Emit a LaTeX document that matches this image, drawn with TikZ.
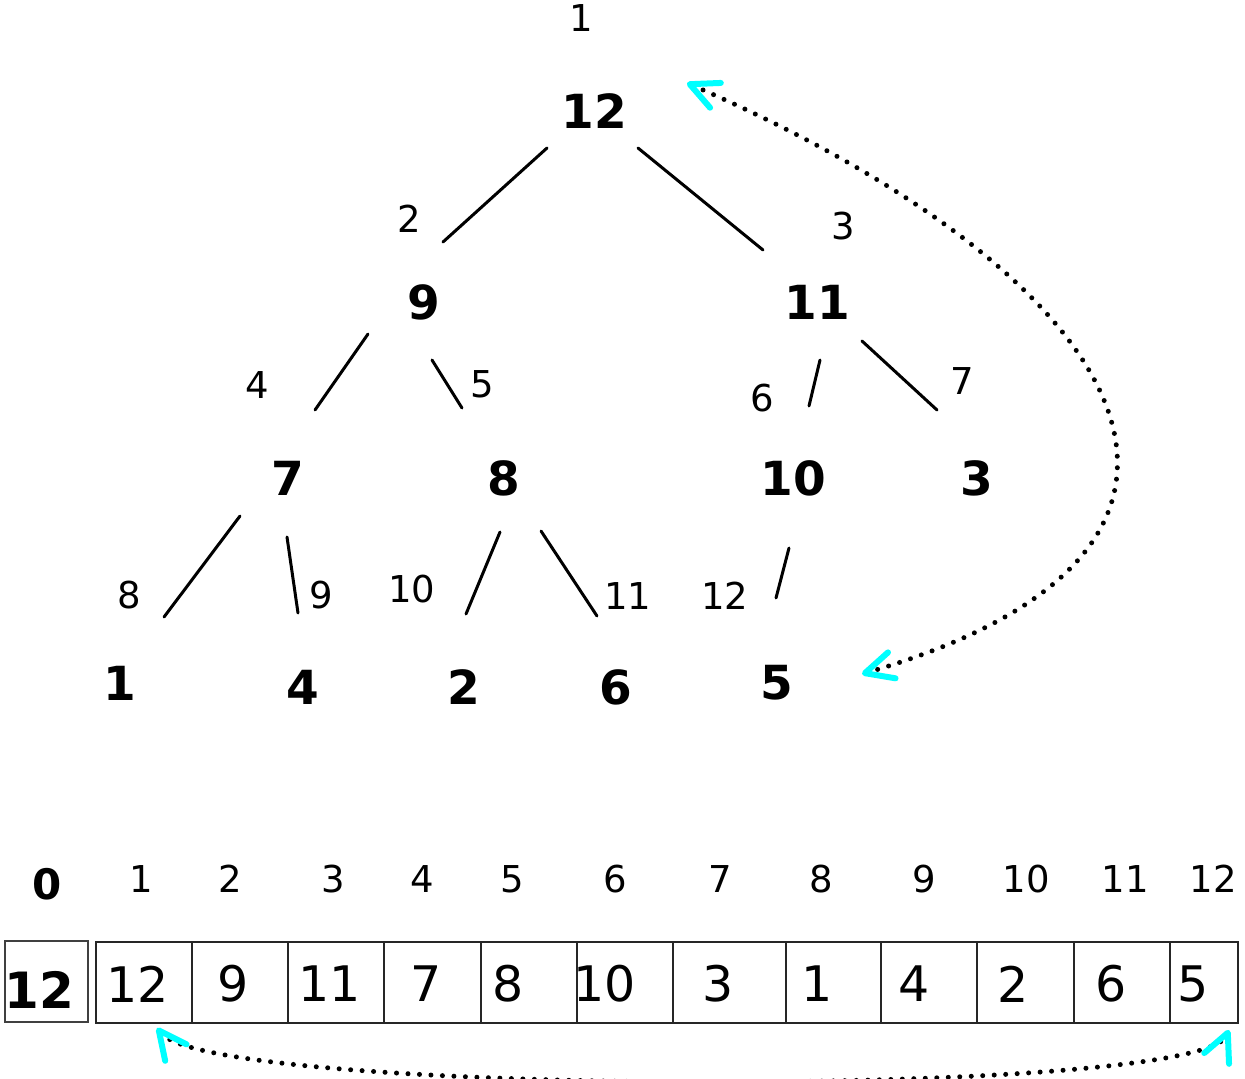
\documentclass[tikz,border=0pt]{standalone}
\usepackage{fontspec}
\setmainfont{DejaVu Sans}
\usetikzlibrary{arrows.meta}
\definecolor{tipcyan}{HTML}{00FFFF}

\begin{document}
\begin{tikzpicture}[
    x=1pt, y=-1pt,
    every node/.style={inner sep=0pt, outer sep=0pt},
    key/.style={font=\fontsize{47}{50}\selectfont\bfseries},
    idx/.style={font=\fontsize{37}{40}\selectfont},
    val/.style={font=\fontsize{49}{52}\selectfont},
    cell/.style={rectangle, draw=black!85, line width=1.6pt, anchor=north west,
                 minimum height=81pt},
    tedge/.style={line width=3pt, line cap=round},
    swaparr/.style={>={Straight Barb[length=28pt, width=27pt, line width=6pt, round, color=tipcyan]},
                    <->, line width=5pt, line cap=round, dash pattern=on 0pt off 11.5pt}
]
    \useasboundingbox (0,0) rectangle (1245,1079);
    \clip (0,0) rectangle (1245,1079);

    \node[key] (t1) at (594,111) {12};
    \node[key] (t2) at (424,302) {9};
    \node[key] (t3) at (817,302) {11};
    \node[key] (t4) at (288,478) {7};
    \node[key] (t5) at (504,478) {8};
    \node[key] (t6) at (793,478) {10};
    \node[key] (t7) at (977,478) {3};
    \node[key] (t8) at (120,683) {1};
    \node[key] (t9) at (303,687) {4};
    \node[key] (t10) at (464,687) {2};
    \node[key] (t11) at (616,687) {6};
    \node[key] (t12) at (777,683) {5};

    \node[idx] (k1) at (581,18) {1};
    \node[idx] (k2) at (409,219) {2};
    \node[idx] (k3) at (843,226) {3};
    \node[idx] (k4) at (257,385) {4};
    \node[idx] (k5) at (482,384) {5};
    \node[idx] (k6) at (762,398) {6};
    \node[idx] (k7) at (962,381) {7};
    \node[idx] (k8) at (129,595) {8};
    \node[idx] (k9) at (321,595) {9};
    \node[idx] (k10) at (412,589) {10};
    \node[idx] (k11) at (628,596) {11};
    \node[idx] (k12) at (725,596) {12};

    \draw[tedge] ([shift={(-47,37)}]t1.center) -- ([shift={(19,-60)}]t2.center);
    \draw[tedge] ([shift={(44,37)}]t1.center) -- ([shift={(-54,-52)}]t3.center);
    \draw[tedge] ([shift={(-56,32)}]t2.center) -- ([shift={(27,-68)}]t4.center);
    \draw[tedge] ([shift={(8,58)}]t2.center) -- ([shift={(-42,-70)}]t5.center);
    \draw[tedge] ([shift={(3,58)}]t3.center) -- ([shift={(16,-72)}]t6.center);
    \draw[tedge] ([shift={(45,39)}]t3.center) -- ([shift={(-40,-68)}]t7.center);
    \draw[tedge] ([shift={(-48,38)}]t4.center) -- ([shift={(44,-66)}]t8.center);
    \draw[tedge] ([shift={(-1,59)}]t4.center) -- ([shift={(-5,-74)}]t9.center);
    \draw[tedge] ([shift={(-4,54)}]t5.center) -- ([shift={(2,-73)}]t10.center);
    \draw[tedge] ([shift={(37,53)}]t5.center) -- ([shift={(-19,-71)}]t11.center);
    \draw[tedge] ([shift={(-4,70)}]t6.center) -- ([shift={(-1,-85)}]t12.center);

    \draw[swaparr] ([shift={(93,-28)}]t1.center) .. controls +(450,195) and +(430,-125)
        .. ([shift={(85,-9)}]t12.center);

    \node[cell, draw=black!75, line width=2pt, minimum width=83pt] (c0) at (5,941) {};
    \node[cell, minimum width=96pt] (c1) at (96,942) {};
    \node[cell, minimum width=96pt] (c2) at (192,942) {};
    \node[cell, minimum width=96pt] (c3) at (288,942) {};
    \node[cell, minimum width=97pt] (c4) at (384,942) {};
    \node[cell, minimum width=96pt] (c5) at (481,942) {};
    \node[cell, minimum width=96pt] (c6) at (577,942) {};
    \node[cell, minimum width=113pt] (c7) at (673,942) {};
    \node[cell, minimum width=95pt] (c8) at (786,942) {};
    \node[cell, minimum width=96pt] (c9) at (881,942) {};
    \node[cell, minimum width=97pt] (c10) at (977,942) {};
    \node[cell, minimum width=96pt] (c11) at (1074,942) {};
    \node[cell, minimum width=68pt] (c12) at (1170,942) {};

    \node[val, font=\fontsize{50}{52}\selectfont\bfseries] (v0) at (39,990) {12};
    \node[val] (v1) at (138,984) {12};
    \node[val] (v2) at (233,984) {9};
    \node[val] (v3) at (330,984) {11};
    \node[val] (v4) at (426,984) {7};
    \node[val] (v5) at (508,984) {8};
    \node[val] (v6) at (605,984) {10};
    \node[val] (v7) at (718,984) {3};
    \node[val] (v8) at (817,984) {1};
    \node[val] (v9) at (914,984) {4};
    \node[val] (v10) at (1013,984) {2};
    \node[val] (v11) at (1111,984) {6};
    \node[val] (v12) at (1193,984) {5};

    \node[idx, font=\fontsize{42}{44}\selectfont\bfseries] (a0) at (47,884) {0};
    \node[idx] (a1) at (141,879) {1};
    \node[idx] (a2) at (230,879) {2};
    \node[idx] (a3) at (333,879) {3};
    \node[idx] (a4) at (422,879) {4};
    \node[idx] (a5) at (512,879) {5};
    \node[idx] (a6) at (615,879) {6};
    \node[idx] (a7) at (720,879) {7};
    \node[idx] (a8) at (821,879) {8};
    \node[idx] (a9) at (924,879) {9};
    \node[idx] (a10) at (1026,879) {10};
    \node[idx] (a11) at (1125,879) {11};
    \node[idx] (a12) at (1213,879) {12};

    \draw[swaparr] ([shift={(13,5)}]c1.south) .. controls +(53,69) and +(-30,69)
        .. ([shift={(25,7)}]c12.south);
\end{tikzpicture}
\end{document}
